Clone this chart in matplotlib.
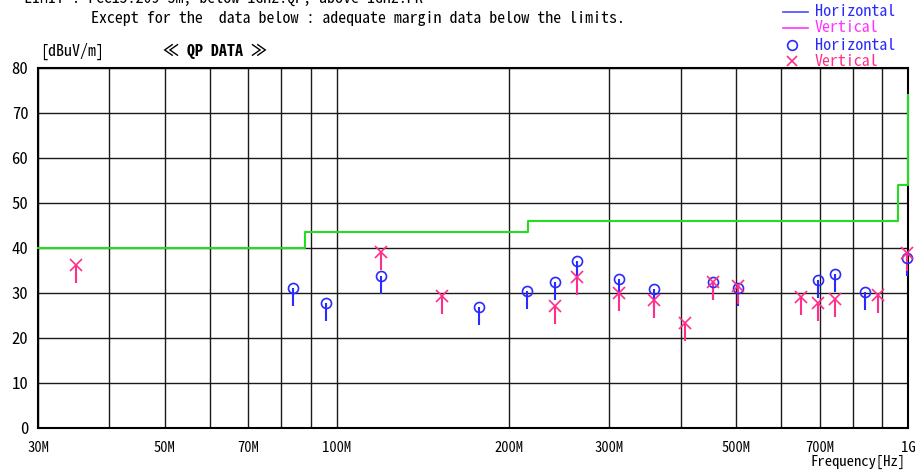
import matplotlib
matplotlib.use('Agg')
import matplotlib.pyplot as plt
from matplotlib.lines import Line2D

# ---------------- data ----------------
limit_freq = [30, 88, 88, 216, 216, 960, 960, 1000, 1000]
limit_level = [40, 40, 43.5, 43.5, 46, 46, 54, 54, 74]

horiz_freq = [83.9, 95.8, 119.6, 177.7, 215.5, 241, 263.7, 312, 359.7, 456, 503, 696, 745, 841, 995]
horiz_level = [31.1, 27.8, 33.8, 27.0, 30.4, 32.4, 37.1, 33.2, 31.0, 32.4, 31.2, 32.9, 34.3, 30.2, 37.7]

vert_freq = [34.9, 119.6, 153, 241, 263.7, 312, 359.7, 407, 456, 503, 649, 696, 745, 887, 995]
vert_level = [36.2, 39.1, 29.3, 27.1, 33.6, 30.1, 28.4, 23.4, 32.4, 31.6, 29.2, 27.8, 28.6, 29.5, 39.0]

stem_drop = 4.0  # dB, length of the stem below each marker

grid_freqs = [30, 40, 50, 60, 70, 80, 90, 100, 200, 300, 400, 500, 600, 700, 800, 900, 1000]
labelled = {30: '30M', 50: '50M', 70: '70M', 100: '100M', 200: '200M',
            300: '300M', 500: '500M', 700: '700M', 1000: '1G'}
y_ticks = [0, 10, 20, 30, 40, 50, 60, 70, 80]

# ---------------- style ----------------
FONT = ['Noto Sans Mono CJK JP', 'Noto Sans CJK JP', 'DejaVu Sans Mono']
plt.rcParams['font.family'] = FONT

BLUE = '#2a2aff'
PINK = '#ff2e8a'
MAGENTA = '#ff33ff'
GREEN = '#22dd22'

W, H = 917, 473
fig = plt.figure(figsize=(W / 100, H / 100), dpi=100)
ax = fig.add_axes([38 / W, 1 - 428 / H, (908 - 38) / W, (428 - 68) / H])

ax.set_xscale('log')
ax.set_xlim(30, 1000)
ax.set_ylim(0, 80)

ax.set_xticks(grid_freqs)
ax.set_xticklabels([labelled.get(f, '') for f in grid_freqs])
ax.xaxis.set_minor_locator(matplotlib.ticker.NullLocator())
ax.set_yticks(y_ticks)
ax.set_yticklabels([str(v) for v in y_ticks])
ax.tick_params(axis='both', length=0)
ax.tick_params(axis='x', pad=9, labelsize=10.5)
ax.tick_params(axis='y', pad=7, labelsize=12)
ax.grid(True, color='#1a1a1a', linewidth=1.0)
ax.set_axisbelow(True)
for s in ax.spines.values():
    s.set_linewidth(1.5)
    s.set_color('black')

# limit line
ax.plot(limit_freq, limit_level, color=GREEN, linewidth=1.5, zorder=6, clip_on=False)

# stems
ax.vlines(horiz_freq, [v - stem_drop for v in horiz_level], horiz_level,
          color=BLUE, linewidth=1.5, zorder=4)
ax.vlines(vert_freq, [v - stem_drop for v in vert_level], vert_level,
          color=PINK, linewidth=1.5, zorder=4)
# markers
ax.plot(horiz_freq, horiz_level, linestyle='none', marker='o', markersize=7.2,
        markerfacecolor='none', markeredgecolor=BLUE, markeredgewidth=1.2, zorder=5,
        clip_on=False)
ax.plot(vert_freq, vert_level, linestyle='none', marker='x', markersize=8,
        markeredgecolor=PINK, markeredgewidth=1.2, zorder=5, clip_on=False)

# ---------------- texts ----------------
def fy(py):
    return 1 - py / H

fig.text(24 / W, fy(3), 'LIMIT : FCC15.209 3m, below 1GHz:QP, above 1GHz:PK',
         fontsize=11.5, ha='left', va='baseline')
fig.text(91 / W, fy(23), 'Except for the  data below : adequate margin data below the limits.',
         fontsize=11.5, ha='left', va='baseline')
fig.text(40 / W, fy(51), '[dBuV/m]', fontsize=11.5, ha='left', va='center')
fig.text(163 / W, fy(51), '≪ QP DATA ≫', fontsize=11.5, ha='left', va='center',
         fontweight='bold')
fig.text(906 / W, fy(462), 'Frequency[Hz]', fontsize=10.5, ha='right', va='center')

# legend (manual)
rows = [(12, 'line', '#4a4aff', 'Horizontal', BLUE),
        (28, 'line', MAGENTA, 'Vertical', MAGENTA),
        (45, 'o', BLUE, 'Horizontal', BLUE),
        (61, 'x', PINK, 'Vertical', PINK)]
for py, kind, c, label, tc in rows:
    if kind == 'line':
        fig.add_artist(Line2D([783 / W, 808 / W], [fy(py), fy(py)], color=c,
                              linewidth=1.2, transform=fig.transFigure))
    else:
        fig.add_artist(Line2D([792 / W], [fy(py)], linestyle='none', marker=kind,
                              markersize=7, markerfacecolor='none', markeredgecolor=c,
                              markeredgewidth=1.2, transform=fig.transFigure))
    fig.text(815 / W, fy(py), label, color=tc, fontsize=11.5, ha='left', va='center')

fig.savefig('out.png', dpi=100)
